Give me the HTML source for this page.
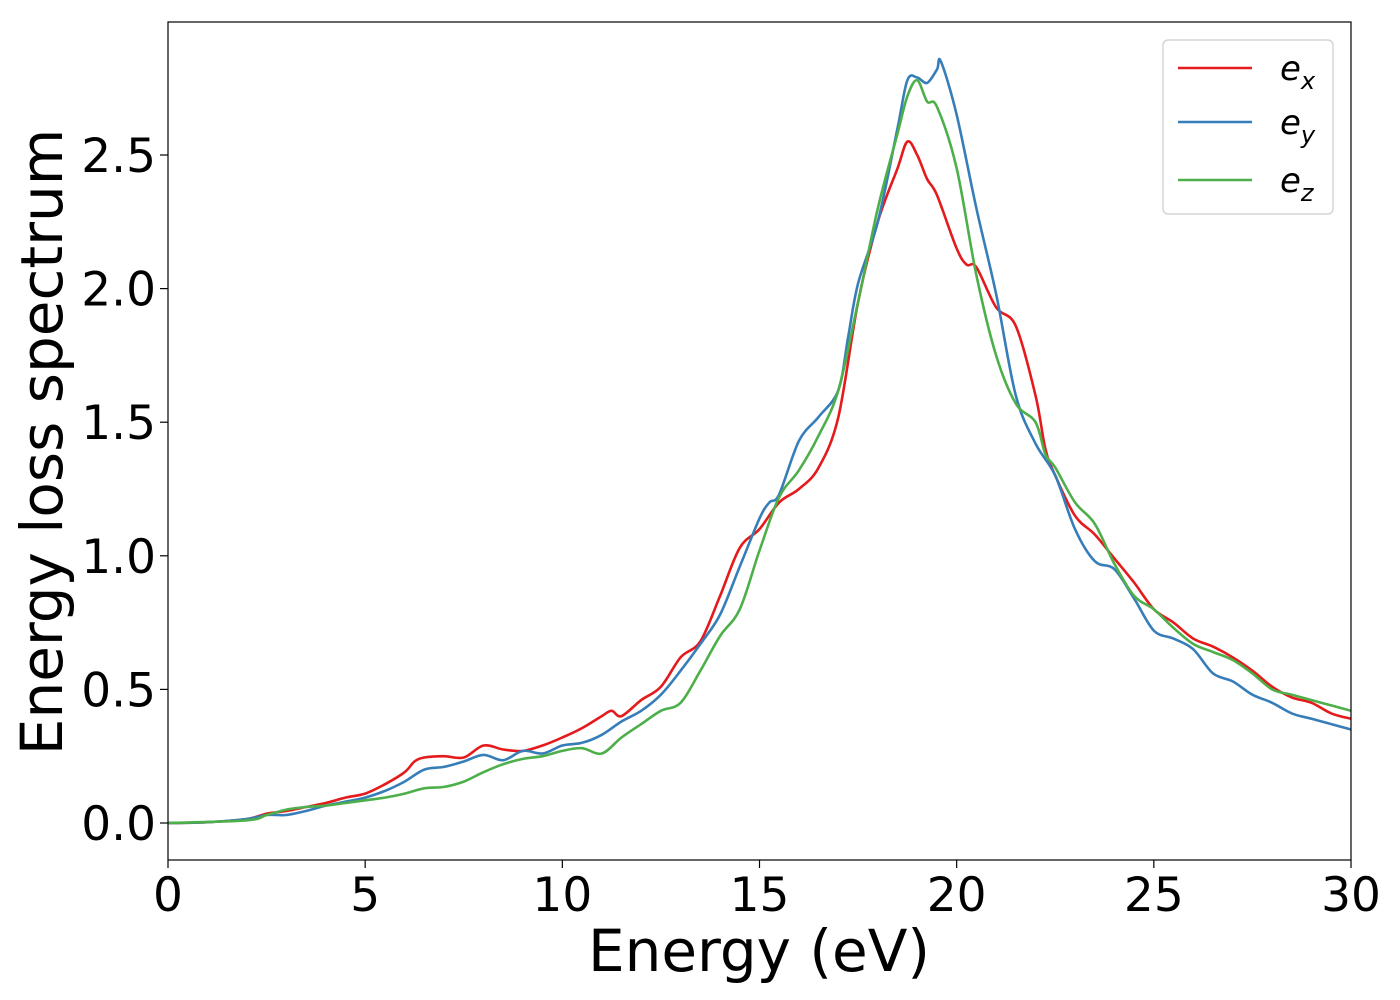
<!DOCTYPE html>
<html><head><meta charset="utf-8"><style>
html,body{margin:0;padding:0;background:#fff;}
svg{display:block;font-family:"DejaVu Sans","Liberation Sans",sans-serif;}
</style></head><body>
<svg id="chart" width="1400" height="1000"></svg>
<script>
const xs_x=[0,1,2,2.5,3,3.5,4,4.5,5,5.5,6,6.25,6.5,7,7.5,8,8.5,9,9.5,10,10.5,11,11.25,11.5,12,12.5,13,13.5,14,14.5,15,15.5,16,16.5,17,17.5,18,18.5,18.75,19,19.25,19.5,20,20.25,20.5,21,21.5,22,22.25,22.5,23,23.5,24,24.5,25,25.5,26,26.5,27,27.5,28,28.5,29,29.5,30];
const ex=[0,0.003,0.015,0.035,0.045,0.06,0.075,0.095,0.11,0.145,0.19,0.23,0.245,0.25,0.245,0.29,0.275,0.27,0.29,0.32,0.355,0.40,0.42,0.40,0.46,0.51,0.62,0.68,0.85,1.03,1.10,1.2,1.25,1.33,1.52,1.95,2.25,2.45,2.55,2.5,2.41,2.35,2.15,2.09,2.08,1.93,1.86,1.6,1.4,1.3,1.15,1.08,0.99,0.9,0.8,0.75,0.69,0.66,0.62,0.57,0.51,0.47,0.45,0.41,0.39];
const xs_y=[0,1,2,2.5,3,3.5,4,4.5,5,5.5,6,6.5,7,7.5,8,8.5,9,9.5,10,10.5,11,11.5,12,12.5,13,13.5,14,14.5,15,15.25,15.5,16,16.5,17,17.25,17.5,18,18.5,18.75,19,19.25,19.5,19.6,20,20.5,21,21.5,22,22.5,23,23.5,24,24.5,25,25.5,26,26.5,27,27.5,28,28.5,29,29.5,30];
const ey=[0,0.003,0.015,0.03,0.03,0.045,0.065,0.08,0.095,0.12,0.155,0.2,0.21,0.23,0.255,0.235,0.27,0.26,0.29,0.3,0.33,0.38,0.42,0.48,0.57,0.67,0.78,0.96,1.14,1.2,1.23,1.43,1.52,1.62,1.82,2.02,2.25,2.6,2.78,2.79,2.77,2.82,2.85,2.65,2.3,1.98,1.6,1.42,1.3,1.1,0.98,0.95,0.84,0.72,0.69,0.65,0.56,0.53,0.48,0.45,0.41,0.39,0.37,0.35];
const xs_z=[0,2,2.5,3,3.5,4,4.5,5,5.5,6,6.5,7,7.5,8,8.5,9,9.5,10,10.5,11,11.5,12,12.5,13,13.5,14,14.5,15,15.5,16,16.5,17,17.5,18,18.5,18.75,19,19.25,19.5,20,20.5,21,21.5,22,22.25,22.5,23,23.5,24,24.5,25,25.5,26,26.5,27,27.5,28,28.5,29,29.5,30];
const ez=[0,0.01,0.03,0.05,0.06,0.065,0.075,0.085,0.095,0.11,0.13,0.135,0.155,0.19,0.22,0.24,0.25,0.27,0.28,0.26,0.32,0.37,0.42,0.45,0.57,0.7,0.8,1.02,1.22,1.32,1.45,1.62,1.95,2.3,2.58,2.72,2.78,2.7,2.68,2.45,2.05,1.75,1.57,1.5,1.38,1.33,1.2,1.12,0.97,0.85,0.8,0.73,0.67,0.64,0.61,0.56,0.5,0.48,0.46,0.44,0.42];
const xTicks=[0,5,10,15,20,25,30];
const yTicks=[0.0,0.5,1.0,1.5,2.0,2.5];

const L=168,R=1351,T=22,B=860;
const X=v=>L+(v-0)*(R-L)/30;
const Y=v=>823-v*267.2;
const svg=document.getElementById('chart');
const NS='http://www.w3.org/2000/svg';
function mk(tag,attrs,parent){const e=document.createElementNS(NS,tag);for(const k in attrs)e.setAttribute(k,attrs[k]);(parent||svg).appendChild(e);return e;}
function smooth(p){
  let d='M'+p[0][0].toFixed(1)+','+p[0][1].toFixed(1);
  for(let i=0;i<p.length-1;i++){
    const p0=p[Math.max(0,i-1)],p1=p[i],p2=p[i+1],p3=p[Math.min(p.length-1,i+2)];
    const c1x=p1[0]+(p2[0]-p0[0])/6,c1y=p1[1]+(p2[1]-p0[1])/6;
    const c2x=p2[0]-(p3[0]-p1[0])/6,c2y=p2[1]-(p3[1]-p1[1])/6;
    d+=' C'+c1x.toFixed(1)+','+c1y.toFixed(1)+' '+c2x.toFixed(1)+','+c2y.toFixed(1)+' '+p2[0].toFixed(1)+','+p2[1].toFixed(1);
  }
  return d;
}

const clip=mk('clipPath',{id:'pc'});mk('rect',{x:L,y:T,width:R-L,height:B-T},clip);

const series=[[xs_x,ex,'#e41a1c','series-ex'],[xs_y,ey,'#377eb8','series-ey'],[xs_z,ez,'#4daf4a','series-ez']];
series.forEach(([xx,yy,c,n])=>{
  const pts=xx.map((v,i)=>[X(v),Y(yy[i])]);
  const p=mk('path',{d:smooth(pts),fill:'none',stroke:c,'stroke-width':2.6,'stroke-linejoin':'round','clip-path':'url(#pc)'});
  
  
});

const frame=mk('rect',{x:L,y:T,width:R-L,height:B-T,fill:'none',stroke:'#000','stroke-width':1.2});



xTicks.forEach(v=>{
  mk('line',{x1:X(v),x2:X(v),y1:B,y2:B+8,stroke:'#000','stroke-width':1.2});
  const t=mk('text',{x:X(v),y:B+51,'font-size':47,'text-anchor':'middle',fill:'#000'});
  t.textContent=v;
  
  
});
yTicks.forEach(v=>{
  mk('line',{x1:L-8,x2:L,y1:Y(v),y2:Y(v),stroke:'#000','stroke-width':1.2});
  const t=mk('text',{x:L-12,y:Y(v)+17,'font-size':47,'text-anchor':'end',fill:'#000'});
  t.textContent=v.toFixed(1);
  
  
});

const xt=mk('text',{x:759,y:971,'font-size':58,'text-anchor':'middle',fill:'#000'});
xt.textContent='Energy (eV)';


const yt=mk('text',{x:0,y:0,'font-size':58,'text-anchor':'middle',fill:'#000',transform:'translate(62,442) rotate(-90)'});
yt.textContent='Energy loss spectrum';



const lg=mk('g',{});


mk('rect',{x:1163,y:40,width:170,height:174,rx:5,fill:'#fff',stroke:'#ccc','stroke-width':1.2},lg);
const labs=['x','y','z'];const ly=[68,122,180];
series.forEach(([a,b,c,n],i)=>{
  const e=mk('g',{},lg);
  
  
  mk('line',{x1:1178,x2:1252,y1:ly[i],y2:ly[i],stroke:c,'stroke-width':2.6},e);
  const t=mk('text',{x:1280,y:ly[i]+12,'font-size':34,'font-style':'italic',fill:'#000'},e);
  t.textContent='e';
  const s=mk('tspan',{'font-size':24,dy:9},t);
  s.textContent=labs[i];
});
</script>
</body></html>
